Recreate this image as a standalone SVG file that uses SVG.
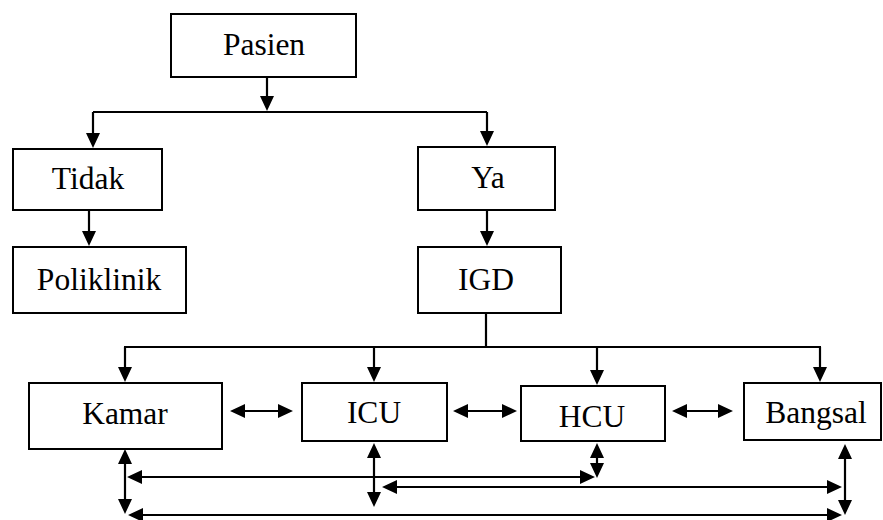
<svg xmlns="http://www.w3.org/2000/svg" width="883" height="520" viewBox="0 0 883 520">
<defs>
<style>
.box{fill:#fff;stroke:#000;stroke-width:2}
.lbl{font-size:31.5px;fill:#000;text-anchor:middle}
.ln{fill:none;stroke:#000;stroke-width:2.2}
.ah{fill:#000;stroke:none}
</style>
</defs>
<rect width="883" height="520" fill="#fff"/>
<g font-family="Liberation Serif, Times New Roman, Times, serif">
<g id="pasien"><rect class="box" x="171" y="14" width="185" height="63"/><text class="lbl" x="264" y="55">Pasien</text></g>
<g id="tidak"><rect class="box" x="13" y="149" width="149" height="61"/><text class="lbl" x="88" y="189">Tidak</text></g>
<g id="poliklinik"><rect class="box" x="13" y="247" width="173" height="66"/><text class="lbl" x="99" y="290">Poliklinik</text></g>
<g id="ya"><rect class="box" x="418" y="147" width="137" height="63"/><text class="lbl" x="488" y="188">Ya</text></g>
<g id="igd"><rect class="box" x="418" y="247" width="143" height="66"/><text class="lbl" x="486" y="290">IGD</text></g>
<g id="kamar"><rect class="box" x="29" y="383" width="193" height="66"/><text class="lbl" x="125" y="424">Kamar</text></g>
<g id="icu"><rect class="box" x="302" y="383" width="145" height="58"/><text class="lbl" x="374" y="423">ICU</text></g>
<g id="hcu"><rect class="box" x="521" y="386" width="144" height="55"/><text class="lbl" x="592" y="427">HCU</text></g>
<g id="bangsal"><rect class="box" x="744" y="383" width="137" height="57"/><text class="lbl" x="816" y="423">Bangsal</text></g>
</g>
<g id="connectors">
<path class="ln" d="M267,77V100 M93,112H487 M93,112V136 M487,112V134 M89,210V234 M487,210V234 M486,313V347 M124,347H821 M125,347V370 M374,347V370 M597,347V373 M820,347V370"/>
<path class="ln" d="M240,411H283 M463,411H507 M682,411H723 M125,459V504 M374,453V497 M597,453V468 M845,454V505 M137,477H585 M392,487H832 M138,515H832"/>
<path class="ah" d="M260,96L274,96L267,111Z M86,133L100,133L93,148Z M480,131L494,131L487,146Z M82,231L96,231L89,246Z M480,231L494,231L487,246Z M118,367L132,367L125,382Z M367,367L381,367L374,382Z M590,370L604,370L597,385Z M813,367L827,367L820,382Z"/>
<path class="ah" d="M245,404L245,418L230,411Z M278,404L278,418L293,411Z M468,404L468,418L453,411Z M502,404L502,418L517,411Z M687,404L687,418L672,411Z M718,404L718,418L733,411Z"/>
<path class="ah" d="M118,464L132,464L125,449Z M118,499L132,499L125,514Z M367,458L381,458L374,443Z M367,492L381,492L374,507Z M590,458L604,458L597,443Z M590,463L604,463L597,478Z M838,459L852,459L845,444Z M838,500L852,500L845,515Z"/>
<path class="ah" d="M142,470L142,484L127,477Z M580,470L580,484L595,477Z M397,480L397,494L382,487Z M827,480L827,494L842,487Z M143,508L143,522L128,515Z M827,508L827,522L842,515Z"/>
</g>
</svg>
